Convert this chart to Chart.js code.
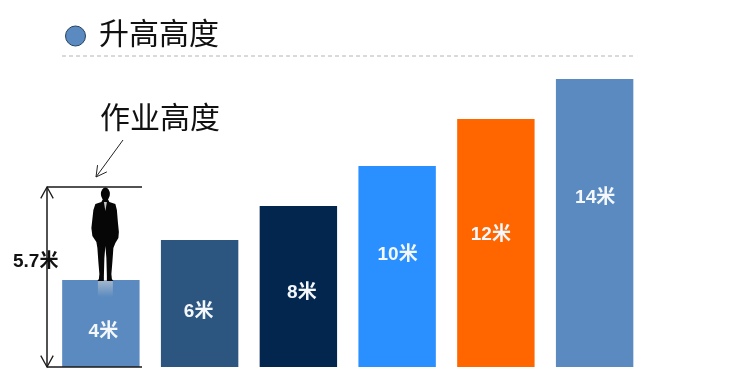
<!DOCTYPE html>
<html lang="zh">
<head>
  <meta charset="UTF-8" />
  <title>升高高度</title>
  <script src="https://cdn.jsdelivr.net/npm/chart.js"></script>
  <style>
    html, body { margin: 0; padding: 0; background: #fff; overflow: hidden; }
    canvas { display: block; }
  </style>
</head>
<body>
  <canvas id="barChart" width="753" height="387"></canvas>

  <script>
    const categories = ['4米', '6米', '8米', '10米', '12米', '14米'];
    // bar heights as drawn in the picture (not quite proportional to the labels)
    const heights = [4.23, 6.17, 7.83, 9.77, 12.06, 14];
    const barColors = ['#5a8abf', '#2c5680', '#03264f', '#2a8fff', '#ff6600', '#5a8abf'];
    // height at which each bar's label sits
    const labelLevels = [1.73, 2.7, 3.62, 5.47, 6.44, 8.24];
    const labelShift = [2.5, -1, 3.5, 0.5, -5, 0.5];

    const legendTitle = '升高高度';
    const workTitle = '作业高度';
    const workLabel = '5.7米';
    const workLevel = 8.75; // level of the line over the man's head

    const cjk = '"Liberation Sans", "Noto Sans CJK SC", sans-serif';

    function drawMan(ctx, cx, foot) {
      // silhouette, offsets from the point between the feet
      const pts = [
        [-2.5, -83], [2.5, -83], [4, -80], [10, -78], [11.5, -72], [12.5, -60], [13.5, -50], [13, -44],
        [10, -39], [8, -34], [7, -20], [6, -8], [6.5, -3], [8, -1], [1.5, -1], [1.5, -6], [1, -24], [0, -36],
        [-1, -24], [-1.5, -6], [-1.5, -1], [-8, -1], [-6.5, -3], [-6, -8], [-7, -20], [-8, -34],
        [-9, -40], [-13, -46], [-14, -54], [-12, -72], [-10, -78], [-4, -80]
      ];
      ctx.fillStyle = '#060606';
      ctx.beginPath();
      pts.forEach((p, i) => {
        if (i === 0) ctx.moveTo(cx + p[0], foot + p[1]);
        else ctx.lineTo(cx + p[0], foot + p[1]);
      });
      ctx.closePath();
      ctx.fill();
      ctx.beginPath();
      ctx.ellipse(cx, foot - 88, 4.5, 6.5, 0, 0, Math.PI * 2);
      ctx.fill();
      // shirt
      ctx.fillStyle = '#c8c8c8';
      ctx.beginPath();
      ctx.moveTo(cx - 1.5, foot - 80);
      ctx.lineTo(cx + 1.5, foot - 80);
      ctx.lineTo(cx, foot - 71);
      ctx.closePath();
      ctx.fill();
    }

    function arrowHead(ctx, x, y, dx, dy, size) {
      const a = Math.atan2(dy, dx);
      ctx.beginPath();
      ctx.moveTo(x - size * Math.cos(a - 0.5), y - size * Math.sin(a - 0.5));
      ctx.lineTo(x, y);
      ctx.lineTo(x - size * Math.cos(a + 0.5), y - size * Math.sin(a + 0.5));
      ctx.stroke();
    }

    const decorations = {
      id: 'decorations',
      afterDatasetsDraw(chart) {
        const { ctx, scales } = chart;
        const yBase = scales.y.getPixelForValue(0);
        const yTop = scales.y.getPixelForValue(workLevel);
        const firstBar = chart.getDatasetMeta(0).data[0];

        ctx.save();
        ctx.textBaseline = 'middle';

        // reflection of the feet on the first bar
        const glow = ctx.createLinearGradient(0, firstBar.y, 0, firstBar.y + 17);
        glow.addColorStop(0, 'rgba(215,215,215,0.6)');
        glow.addColorStop(1, 'rgba(215,215,215,0)');
        ctx.fillStyle = glow;
        ctx.fillRect(firstBar.x - 3, firstBar.y, 15, 17);

        // bar labels
        ctx.fillStyle = '#f4f7fb';
        ctx.textAlign = 'center';
        ctx.font = 'bold 19px ' + cjk;
        categories.forEach((c, i) => {
          const bar = chart.getDatasetMeta(0).data[i];
          ctx.fillText(c, bar.x + labelShift[i], scales.y.getPixelForValue(labelLevels[i]));
        });

        // legend row
        ctx.fillStyle = '#5a8abf';
        ctx.strokeStyle = '#24425f';
        ctx.lineWidth = 1;
        ctx.beginPath();
        ctx.arc(75.5, 36, 10, 0, Math.PI * 2);
        ctx.fill();
        ctx.stroke();

        ctx.fillStyle = '#111';
        ctx.textAlign = 'left';
        ctx.font = '30px "Noto Sans CJK SC", sans-serif';
        ctx.fillText(legendTitle, 99, 33);
        ctx.fillText(workTitle, 100, 117);

        // dashed rule under the legend
        ctx.strokeStyle = '#b4b4b4';
        ctx.setLineDash([4, 3]);
        ctx.beginPath();
        ctx.moveTo(62, 56);
        ctx.lineTo(634, 56);
        ctx.stroke();
        ctx.setLineDash([]);

        // arrow pointing to the head
        ctx.strokeStyle = '#222';
        ctx.lineWidth = 1;
        ctx.beginPath();
        ctx.moveTo(123, 140);
        ctx.lineTo(96, 177);
        ctx.stroke();
        arrowHead(ctx, 96, 177, -27, 37, 12);

        // height dimension
        ctx.strokeStyle = '#1a1a1a';
        ctx.lineWidth = 1.5;
        ctx.beginPath();
        ctx.moveTo(47, yTop);
        ctx.lineTo(142, yTop);
        ctx.moveTo(47, yBase);
        ctx.lineTo(142, yBase);
        ctx.moveTo(47, yTop);
        ctx.lineTo(47, yBase);
        ctx.stroke();
        ctx.lineWidth = 1.3;
        arrowHead(ctx, 47, yTop, 0, -1, 13);
        arrowHead(ctx, 47, yBase, 0, 1, 13);

        ctx.fillStyle = '#111';
        ctx.font = 'bold 19px ' + cjk;
        ctx.fillText(workLabel, 13, 262);

        drawMan(ctx, firstBar.x + 4.5, firstBar.y + 2);
        ctx.restore();
      }
    };

    new Chart(document.getElementById('barChart').getContext('2d'), {
      type: 'bar',
      data: {
        labels: categories,
        datasets: [{
          data: heights,
          backgroundColor: barColors,
          borderWidth: 0,
          barPercentage: 0.784,
          categoryPercentage: 1
        }]
      },
      options: {
        responsive: false,
        animation: false,
        layout: { padding: { left: 51.5, right: 109, top: 79, bottom: 20 } },
        plugins: {
          legend: { display: false },
          title: { display: false },
          tooltip: { enabled: false }
        },
        scales: {
          x: { display: false },
          y: { display: false, min: 0, max: 14 }
        }
      },
      plugins: [decorations]
    });
  </script>
</body>
</html>
